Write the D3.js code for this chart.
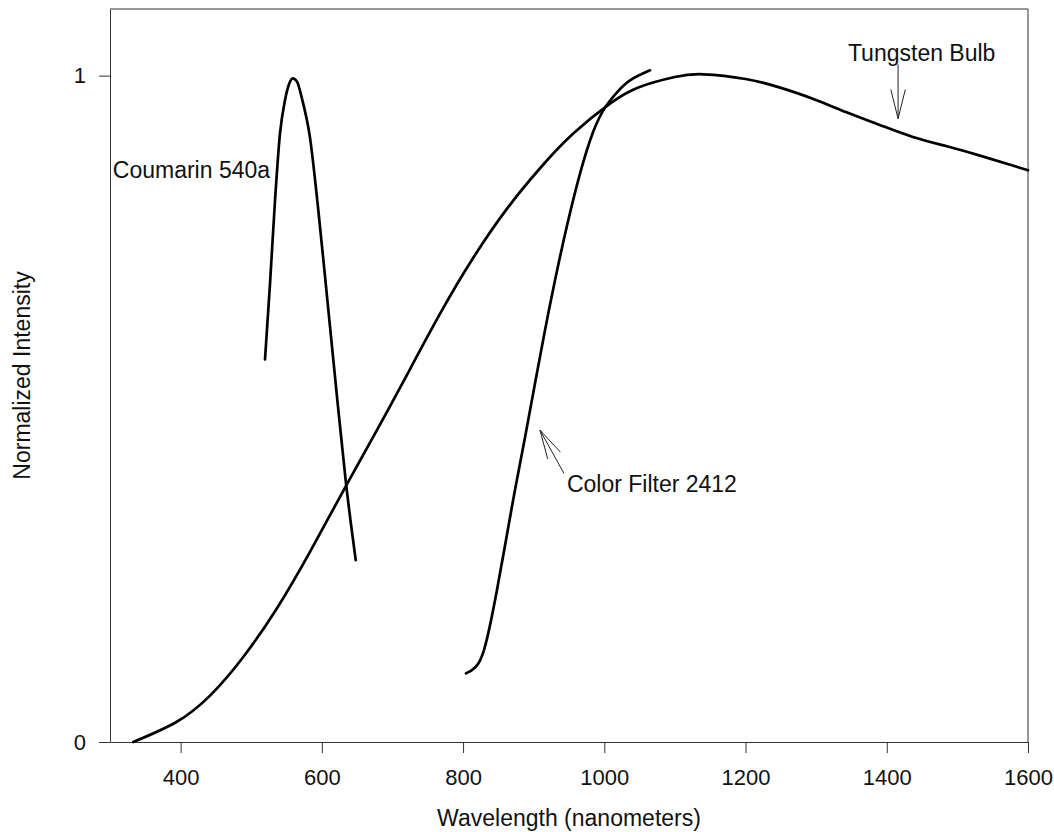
<!DOCTYPE html>
<html>
<head>
<meta charset="utf-8">
<script src="https://cdn.jsdelivr.net/npm/d3@7"></script>
<style>
  html, body { margin: 0; padding: 0; background: #fff; }
  svg { display: block; }
  text { font-family: "Liberation Sans", Arial, sans-serif; fill: #111; }
</style>
</head>
<body>
<svg id="chart" width="1054" height="832"></svg>
<script>
// ---- data ----
const xTicks = [400, 600, 800, 1000, 1200, 1400, 1600];
const yTicks = [0, 1];

const tungstenNm  = [333, 394, 442, 489, 536, 583, 635, 678, 715, 767, 814, 862, 909, 956, 1008, 1050, 1100, 1140, 1200, 1249, 1296, 1343, 1390, 1437, 1485, 1532, 1600];
const tungstenVal = [0.0, 0.030, 0.070, 0.128, 0.200, 0.285, 0.386, 0.468, 0.540, 0.642, 0.726, 0.800, 0.861, 0.913, 0.958, 0.983, 0.998, 1.002, 0.995, 0.982, 0.965, 0.945, 0.926, 0.908, 0.894, 0.880, 0.858];

const coumarinNm  = [519.5, 526.6, 533.7, 540.7, 547.8, 553.5, 558.7, 564.8, 571.5, 583.2, 595.0, 606.9, 621.0, 634.2, 648.0];
const coumarinVal = [0.574, 0.688, 0.813, 0.913, 0.963, 0.987, 0.996, 0.991, 0.967, 0.907, 0.798, 0.673, 0.523, 0.388, 0.273];

const filterNm  = [804.1, 812.6, 821.1, 829.6, 838.1, 848.0, 859.4, 873.5, 887.7, 901.8, 916.0, 930.2, 947.2, 965.6, 984.0, 1001.0, 1018.0, 1036.4, 1064.7];
const filterVal = [0.103, 0.108, 0.117, 0.138, 0.175, 0.228, 0.295, 0.378, 0.457, 0.538, 0.618, 0.693, 0.775, 0.853, 0.915, 0.952, 0.975, 0.993, 1.008];

const xTitle = "Wavelength (nanometers)";
const yTitle = "Normalized Intensity";
const labelTexts = ["Coumarin 540a", "Tungsten Bulb", "Color Filter 2412"];

// ---- chart ----
const svg = d3.select("#chart");
const x = d3.scaleLinear().domain([300, 1600]).range([110, 1028]);
const y = d3.scaleLinear().domain([0, 1.1]).range([742, 9]);
const FS = 23, TFS = 22;
const axisColor = "#333";
const FONT = '"Liberation Sans", Arial, sans-serif';

// frame (top + right)
svg.append("path")
  .attr("d", `M${x(300)},${y(1.1)}H${x(1600)}V${y(0)}`)
  .attr("fill", "none").attr("stroke", axisColor).attr("stroke-width", 1);

// x axis
const gx = svg.append("g").attr("transform", `translate(0,${y(0)})`)
  .call(d3.axisBottom(x).tickValues(xTicks).tickSize(11).tickSizeOuter(0).tickPadding(16).tickFormat(d3.format("d")));
// y axis
const gy = svg.append("g").attr("transform", `translate(${x(300)},0)`)
  .call(d3.axisLeft(y).tickValues(yTicks).tickSize(11).tickSizeOuter(0).tickPadding(13).tickFormat(d3.format("d")));
[gx, gy].forEach(g => {
  g.selectAll("path, line").attr("stroke", axisColor).attr("stroke-width", 1);
  g.selectAll("text").style("font-size", TFS + "px").style("font-family", FONT).attr("fill", "#111");
});

// titles
svg.append("text").attr("x", (x(300) + x(1600)) / 2).attr("y", 826)
  .attr("text-anchor", "middle").style("font-size", FS + "px").text(xTitle);
svg.append("text").attr("transform", `translate(30,${(y(0) + y(1.1)) / 2}) rotate(-90)`)
  .attr("text-anchor", "middle").style("font-size", FS + "px").text(yTitle);

// curves
const lineNat = d3.line().x(d => x(d[0])).y(d => y(d[1])).curve(d3.curveNatural);
const lineMono = d3.line().x(d => x(d[0])).y(d => y(d[1])).curve(d3.curveMonotoneX);
const series = [
  { pts: d3.zip(tungstenNm, tungstenVal), gen: lineNat },
  { pts: d3.zip(coumarinNm, coumarinVal), gen: lineMono },
  { pts: d3.zip(filterNm, filterVal), gen: lineNat }
];
svg.append("g").selectAll("path").data(series).join("path")
  .attr("d", s => s.gen(s.pts)).attr("fill", "none").attr("stroke", "#000")
  .attr("stroke-width", 2.7).attr("stroke-linejoin", "round").attr("stroke-linecap", "round");

// annotations
function arrow(tailNm, tailV, tipNm, tipV) {
  const tx = x(tailNm), ty = y(tailV), px = x(tipNm), py = y(tipV);
  const ang = Math.atan2(ty - py, tx - px);
  const L = 30, spread = 14 * Math.PI / 180;
  const a1 = [px + L * Math.cos(ang - spread), py + L * Math.sin(ang - spread)];
  const a2 = [px + L * Math.cos(ang + spread), py + L * Math.sin(ang + spread)];
  svg.append("path")
    .attr("d", `M${tx},${ty}L${px},${py}M${a1[0]},${a1[1]}L${px},${py}L${a2[0]},${a2[1]}`)
    .attr("fill", "none").attr("stroke", "#222").attr("stroke-width", 1);
}
svg.append("text").attr("x", x(304)).attr("y", y(0.846)).style("font-size", FS + "px").text(labelTexts[0]);
svg.append("text").attr("x", x(1345)).attr("y", y(1.022)).style("font-size", FS + "px").text(labelTexts[1]);
arrow(1416, 1.017, 1416, 0.9355);
svg.append("text").attr("x", x(947)).attr("y", y(0.375)).style("font-size", FS + "px").text(labelTexts[2]);
arrow(942.9, 0.403, 908.9, 0.468);
</script>
</body>
</html>
